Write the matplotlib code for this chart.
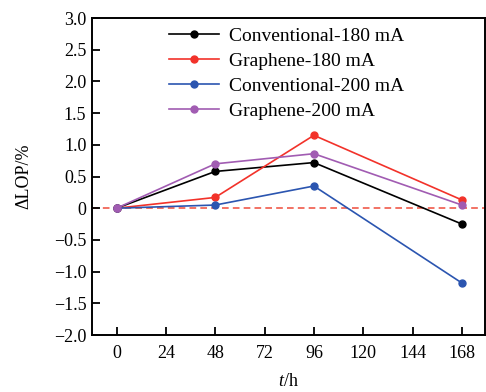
import matplotlib
matplotlib.use("Agg")
import matplotlib.pyplot as plt

hours = [0, 48, 96, 168]
conv_180 = [0, 0.58, 0.72, -0.25]
graph_180 = [0, 0.17, 1.15, 0.13]
conv_200 = [0, 0.05, 0.35, -1.18]
graph_200 = [0, 0.70, 0.86, 0.05]
labels = ["Conventional-180 mA", "Graphene-180 mA", "Conventional-200 mA", "Graphene-200 mA"]
colors = ["#000000", "#f2322a", "#2b55b0", "#a15cb2"]
x_ticks = [0, 24, 48, 72, 96, 120, 144, 168]
y_ticks = [-2.0, -1.5, -1.0, -0.5, 0, 0.5, 1.0, 1.5, 2.0, 2.5, 3.0]
y_tick_labels = ["\u22122.0", "\u22121.5", "\u22121.0", "\u22120.5", "0", "0.5", "1.0", "1.5", "2.0", "2.5", "3.0"]

plt.rcParams["font.family"] = ["Liberation Serif", "DejaVu Serif"]
plt.rcParams["mathtext.fontset"] = "custom"
plt.rcParams["mathtext.it"] = "Liberation Serif:italic"
plt.rcParams["mathtext.rm"] = "Liberation Serif"

fig = plt.figure(figsize=(4.86, 3.92), dpi=100)
ax = fig.add_axes([0.189, 0.1454, 0.808, 0.8086])

ax.axhline(0, color="#f05a4a", linestyle=(0, (4, 2.5)), linewidth=1.2, zorder=1)

for ys, lab, c in zip([conv_180, graph_180, conv_200, graph_200], labels, colors):
    ax.plot(hours, ys, color=c, linewidth=1.2, marker="o", markersize=5,
            markerfacecolor=c, markeredgecolor=c, label=lab, zorder=3)

ax.set_xlim(-12, 179)
ax.set_ylim(-2.0, 3.0)
ax.set_xticks(x_ticks)
ax.set_yticks(y_ticks)
ax.set_yticklabels(y_tick_labels)
ax.tick_params(direction="in", length=6, width=1.3, labelsize=13, top=False, right=False)
ax.tick_params(axis="x", pad=7)
ax.tick_params(axis="y", pad=4)
for s in ax.spines.values():
    s.set_linewidth(1.4)

ax.set_xlabel("$t$/h", fontsize=13, labelpad=8)
ax.set_ylabel("\u0394LOP/%", fontsize=13, labelpad=15)

ax.legend(loc="upper left", bbox_to_anchor=(0.196, 0.972), borderaxespad=0, borderpad=0,
          frameon=False, fontsize=14, handlelength=2.6, labelspacing=0.38, handletextpad=0.5)

fig.savefig("out.png", dpi=100)
